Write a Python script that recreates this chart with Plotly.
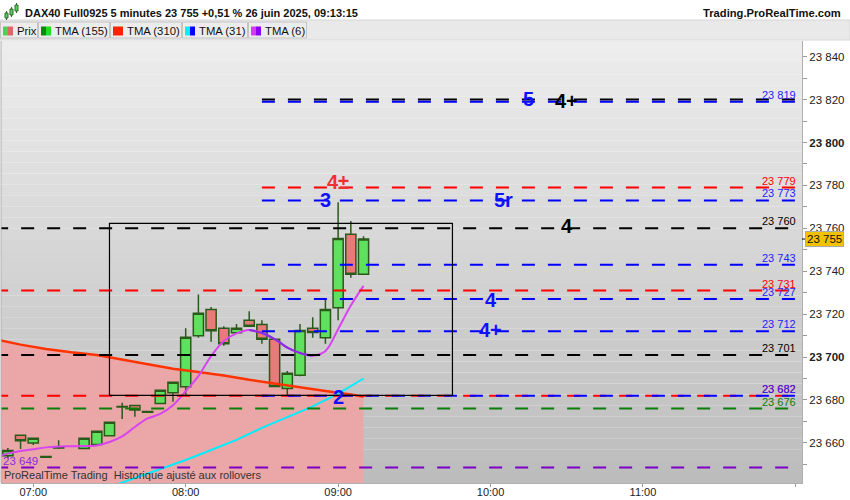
import plotly.graph_objects as go

DAY = "2025-06-26 "

# --- candles (5 minutes) ---
bar_times = ["06:50", "06:55", "07:00", "07:05", "07:10", "07:20", "07:25", "07:30",
             "07:35", "07:40", "07:45", "07:50", "07:55", "08:00", "08:05", "08:10",
             "08:15", "08:20", "08:25", "08:30", "08:35", "08:40", "08:45", "08:50",
             "08:55", "09:00", "09:05", "09:10"]
bar_open = [23654.0, 23663.5, 23660.0, 23653.7, 23657.9, 23657.4, 23659.3, 23663.3,
            23676.7, 23677.4, 23674.6, 23678.4, 23683.4, 23686.2, 23709.9, 23722.2,
            23713.4, 23711.3, 23717.1, 23715.2, 23708.3, 23685.4, 23691.5, 23713.4,
            23709.0, 23723.0, 23757.2, 23738.6]
bar_high = [23657.6, 23663.5, 23662.1, 23653.7, 23661.2, 23662.1, 23665.4, 23669.6,
            23678.7, 23677.4, 23674.6, 23684.5, 23688.2, 23713.4, 23729.2, 23723.3,
            23714.3, 23715.4, 23721.4, 23717.1, 23708.5, 23693.5, 23715.4, 23718.6,
            23726.6, 23772.1, 23763.4, 23756.3]
bar_low = [23653.0, 23657.1, 23659.0, 23653.3, 23657.2, 23657.0, 23659.0, 23663.3,
           23671.1, 23672.2, 23674.3, 23678.4, 23679.2, 23682.3, 23709.0, 23707.1,
           23705.3, 23711.0, 23714.0, 23706.2, 23686.0, 23682.0, 23691.0, 23709.0,
           23706.2, 23717.1, 23737.0, 23738.6]
bar_close = [23656.5, 23661.0, 23662.1, 23653.3, 23657.6, 23662.1, 23665.4, 23669.6,
             23676.9, 23675.3, 23674.3, 23684.5, 23688.2, 23709.2, 23720.4, 23712.3,
             23706.2, 23713.4, 23714.3, 23708.3, 23686.3, 23692.4, 23712.4, 23711.5,
             23722.2, 23755.3, 23738.6, 23755.0]

# --- moving averages ---
tma310_times = ["06:45", "06:55", "07:05", "07:15", "07:25", "07:35", "07:45", "07:55",
                "08:05", "08:15", "08:25", "08:35", "08:45", "08:55", "09:05", "09:10"]
tma310_vals = [23708.3, 23705.8, 23703.8, 23702.2, 23701.0, 23698.9, 23697.0, 23694.6,
               23693.0, 23691.4, 23689.4, 23687.6, 23685.9, 23684.2, 23682.6, 23681.5]

tma31_times = ["07:30", "07:40", "07:50", "08:00", "08:10", "08:20", "08:30", "08:40",
               "08:50", "09:00", "09:10"]
tma31_vals = [23639.4, 23643.5, 23647.6, 23652.0, 23656.7, 23661.4, 23667.0, 23672.0,
              23677.0, 23683.0, 23690.0]

tma6_times = ["06:45", "06:50", "06:55", "07:00", "07:05", "07:10", "07:15", "07:20",
              "07:25", "07:30", "07:35", "07:40", "07:45", "07:50", "07:55", "08:00",
              "08:05", "08:10", "08:15", "08:20", "08:25", "08:30", "08:35", "08:40",
              "08:45", "08:50", "08:55", "09:00", "09:05", "09:10"]
tma6_vals = [23653.3, 23655.0, 23656.2, 23657.0, 23657.9, 23658.3, 23658.4, 23658.5,
             23658.8, 23660.4, 23663.0, 23667.4, 23671.4, 23673.5, 23677.5, 23684.1,
             23691.1, 23700.4, 23707.5, 23711.0, 23712.6, 23711.2, 23708.4, 23704.4,
             23701.9, 23700.6, 23702.8, 23713.0, 23724.0, 23733.2]
tma6_down_from, tma6_down_to = 20, 25  # falling part drawn in violet

# --- horizontal levels ---
level_vals = [23820, 23819, 23779, 23773, 23760, 23743, 23731, 23727, 23712, 23701,
              23682, 23682, 23676, 23648.5]
level_text = ["23 820", "23 819", "23 779", "23 773", "23 760", "23 743", "23 731",
              "23 727", "23 712", "23 701", "23 682", "23 682", "23 676", "23 649"]
level_colors = ["#000000", "#0000ff", "#ff0000", "#0000ff", "#000000", "#0000ff",
                "#ff0000", "#0000ff", "#0000ff", "#000000", "#ff0000", "#0000ff",
                "#0a7d0a", "#7b00c4"]
level_starts = ["08:30", "08:30", "08:30", "08:30", "06:45", "08:30", "06:45", "08:30",
                "08:30", "06:45", "06:45", "08:30", "06:45", "06:45"]
level_show_label = [False, True, True, True, True, True, True, True, True, True,
                    True, True, True, False]
level_end = "12:00"

# --- wave labels ---
wave_texts = ["5", "4+", "4±", "3", "5r", "4", "4", "4+", "2"]
wave_times = ["10:15", "10:30", "09:00", "08:55", "10:05", "10:30", "10:00", "10:00", "09:00"]
wave_vals = [23820.5, 23819.5, 23781.5, 23773.0, 23773.0, 23761.0, 23726.6, 23712.6, 23681.5]
wave_colors = ["#1010ff", "#000000", "#f03030", "#1010ff", "#1010ff", "#000000",
               "#1010ff", "#1010ff", "#1010ff"]

box_times = ["07:30", "09:45"]
box_vals = [23682.1, 23762.3]

last_price = 23755
y_ticks = [23660, 23680, 23700, 23720, 23740, 23760, 23780, 23800, 23820, 23840]
x_ticks = ["07:00", "08:00", "09:00", "10:00", "11:00", "12:00"]
x_tick_text = ["07:00", "08:00", "09:00", "10:00", "11:00", ""]

legend_items = ["Prix", "TMA (155)", "TMA (310)", "TMA (31)", "TMA (6)"]
legend_colors = [("#4fd04f", "#e06666"), ("#0a8a0a", "#22dd22"), ("#ff2200", "#ff2200"),
                 ("#00f0ff", "#0000ff"), ("#d43cf0", "#8a00ff")]


def t(s):
    return DAY + s


def fmt(v):
    return f"{v:,}".replace(",", " ")


# pixel <-> paper helpers (figure 850x500)
PL, PR, PT, PB = 1, 802, 41, 483


def px(x):
    return (x - PL) / (PR - PL)


def py(y):
    return (PB - y) / (PB - PT)


FONT = "Liberation Sans, Arial, sans-serif"

fig = go.Figure()

fig.add_trace(go.Candlestick(
    x=[t(s) for s in bar_times], open=bar_open, high=bar_high, low=bar_low, close=bar_close,
    increasing=dict(fillcolor="#5fe05f", line=dict(color="#2a5a1a", width=1.5)),
    decreasing=dict(fillcolor="#ea7a7a", line=dict(color="#2a5a1a", width=1.5)),
    whiskerwidth=0, hoverinfo="skip",
))

fig.add_trace(go.Scatter(
    x=[t(s) for s in tma310_times], y=tma310_vals, mode="lines",
    line=dict(color="#ff3300", width=2.5), hoverinfo="skip",
))
fig.add_trace(go.Scatter(
    x=[t(s) for s in tma31_times], y=tma31_vals, mode="lines",
    line=dict(color="#00eeff", width=2), hoverinfo="skip",
))
fig.add_trace(go.Scatter(
    x=[t(s) for s in tma6_times], y=tma6_vals, mode="lines",
    line=dict(color="#d844f0", width=2, shape="spline"), hoverinfo="skip",
))
fig.add_trace(go.Scatter(
    x=[t(s) for s in tma6_times[tma6_down_from:tma6_down_to + 1]],
    y=tma6_vals[tma6_down_from:tma6_down_to + 1], mode="lines",
    line=dict(color="#8a2be2", width=2, shape="spline"), hoverinfo="skip",
))

# dashed levels
for v, c, s in zip(level_vals, level_colors, level_starts):
    fig.add_trace(go.Scatter(
        x=[t(s), t(level_end)], y=[v, v], mode="lines",
        line=dict(color=c, width=2, dash="13px,13px"), hoverinfo="skip",
    ))

annotations = []
for v, txt, c, show in zip(level_vals, level_text, level_colors, level_show_label):
    if not show:
        continue
    annotations.append(dict(
        x=px(798), xref="paper", y=v, yref="y", text=txt, showarrow=False,
        xanchor="right", yanchor="bottom", yshift=-1,
        font=dict(family=FONT, size=11, color="#2222ff" if c == "#0000ff" else c),
    ))
annotations.append(dict(
    x=px(1), xref="paper", y=level_vals[-1], yref="y", text=level_text[-1],
    showarrow=False, xanchor="left", yanchor="bottom", yshift=-1,
    font=dict(family=FONT, size=11.5, color="#8a2be2"),
))

for txt, tm, v, c in zip(wave_texts, wave_times, wave_vals, wave_colors):
    annotations.append(dict(
        x=t(tm), y=v, text=f"<b>{txt}</b>", showarrow=False, yanchor="middle",
        font=dict(family=FONT, size=20, color=c),
    ))

# last price tag
annotations.append(dict(
    x=px(805), xref="paper", y=last_price, yref="y", text=fmt(last_price),
    showarrow=False, xanchor="left", yanchor="middle", bgcolor="#f2c200",
    bordercolor="#aaaaaa", borderwidth=1, borderpad=1,
    font=dict(family=FONT, size=11.5, color="#111"),
))

# header texts
annotations.append(dict(
    x=px(23), xref="paper", y=py(12.5), yref="paper", showarrow=False, xanchor="left",
    yanchor="middle",
    text="<b>DAX40 Full0925 5 minutes 23 755 +0,51 % 26 juin 2025, 09:13:15</b>",
    font=dict(family=FONT, size=11, color="#111"),
))
annotations.append(dict(
    x=px(843), xref="paper", y=py(12.5), yref="paper", showarrow=False, xanchor="right",
    yanchor="middle", text="<b>Trading.ProRealTime.com</b>",
    font=dict(family=FONT, size=11.2, color="#111"),
))
annotations.append(dict(
    x=px(2), xref="paper", y=py(475), yref="paper", showarrow=False, xanchor="left",
    yanchor="middle", text="ProRealTime Trading  Historique ajusté aux rollovers",
    font=dict(family=FONT, size=11, color="#333"),
))

shapes = []
# background gradient
n_bands = 40
for i in range(n_bands):
    g = int(238 - (238 - 188) * (i + 0.5) / n_bands)
    shapes.append(dict(
        type="rect", xref="paper", yref="paper", x0=0, x1=1,
        y0=1 - (i + 1) / n_bands, y1=1 - i / n_bands,
        fillcolor=f"rgb({g},{g},{g})", line=dict(width=0), layer="below",
    ))

# pink zone under TMA(310), built from the TMA(310) values
area = "M" + t(tma310_times[0]).replace(" ", "_") + ",23600"
for s, v in zip(tma310_times, tma310_vals):
    area += " L" + t(s).replace(" ", "_") + f",{v}"
area += " L" + t(tma310_times[-1]).replace(" ", "_") + ",23600 Z"
shapes.append(dict(type="path", xref="x", yref="y", path=area, fillcolor="#eba7a7",
                   line=dict(width=0), layer="below"))

# legend row
shapes.append(dict(type="rect", xref="paper", yref="paper", x0=px(0), x1=px(850),
                   y0=py(40), y1=py(20), fillcolor="#e9e9e9",
                   line=dict(color="#d6d6d6", width=1), layer="below"))
box_edges = [(0, 38), (38, 110), (110, 182), (182, 248), (248, 307)]
for (a, b), name, (c1, c2) in zip(box_edges, legend_items, legend_colors):
    shapes.append(dict(type="rect", xref="paper", yref="paper", x0=px(a + 0.5), x1=px(b - 0.5),
                       y0=py(38), y1=py(22), fillcolor="#ececec",
                       line=dict(color="#c4c4c4", width=1), layer="below"))
    shapes.append(dict(type="rect", xref="paper", yref="paper", x0=px(a + 3), x1=px(a + 8),
                       y0=py(35.5), y1=py(26.5), fillcolor=c1, line=dict(width=0)))
    shapes.append(dict(type="rect", xref="paper", yref="paper", x0=px(a + 8), x1=px(a + 13),
                       y0=py(35.5), y1=py(26.5), fillcolor=c2, line=dict(width=0)))
    annotations.append(dict(x=px(a + 15), xref="paper", y=py(30.5), yref="paper",
                            text=name, showarrow=False, xanchor="left", yanchor="middle",
                            font=dict(family=FONT, size=11.3, color="#111")))

# small candle icon in header
for x0, y0, y1 in [(5, 13, 18), (10, 9, 15), (15, 5, 11)]:
    shapes.append(dict(type="line", xref="paper", yref="paper", x0=px(x0 + 1.5), x1=px(x0 + 1.5),
                       y0=py(y1 + 2), y1=py(y0 - 2), line=dict(color="#2a6a2a", width=1)))
    shapes.append(dict(type="rect", xref="paper", yref="paper", x0=px(x0), x1=px(x0 + 3),
                       y0=py(y1), y1=py(y0), fillcolor="#5fd05f",
                       line=dict(color="#2a6a2a", width=1)))

# left border of the chart
shapes.append(dict(type="line", xref="paper", yref="paper", x0=0, x1=0, y0=0, y1=1,
                   line=dict(color="#b0b0b0", width=1)))

# rectangle zone
shapes.append(dict(type="rect", xref="x", yref="y", x0=t(box_times[0]), x1=t(box_times[1]),
                   y0=box_vals[0], y1=box_vals[1], line=dict(color="#000", width=1.2),
                   fillcolor="rgba(0,0,0,0)", layer="above"))
# little tick next to the price tag
shapes.append(dict(type="line", xref="paper", yref="y", x0=px(802), x1=px(805),
                   y0=last_price, y1=last_price, line=dict(color="#000", width=1)))

fig.update_layout(
    width=850, height=500,
    margin=dict(l=PL, r=850 - PR, t=PT, b=500 - PB, autoexpand=False),
    paper_bgcolor="white", plot_bgcolor="rgba(0,0,0,0)",
    showlegend=False, boxgap=0.2, boxgroupgap=0,
    font=dict(family=FONT, size=12, color="#222"),
    shapes=shapes, annotations=annotations,
    xaxis=dict(
        type="date", range=[t("06:47:18"), t("12:02:36")],
        tickvals=[t(s) for s in x_ticks], ticktext=x_tick_text,
        ticks="outside", ticklen=3, tickcolor="#999", showgrid=False, zeroline=False,
        showline=True, linecolor="#b0b0b0", rangeslider=dict(visible=False),
        tickfont=dict(family=FONT, size=11, color="#222"), automargin=False,
        ticklabelstandoff=-4,
    ),
    yaxis=dict(
        side="right", range=[23641.3, 23847.3],
        tickvals=y_ticks,
        ticktext=[f"<b>{fmt(v)}</b>" if v % 100 == 0 else fmt(v) for v in y_ticks],
        ticks="outside", ticklen=4, tickcolor="#999",
        minor=dict(dtick=10, ticks="outside", ticklen=4, tickcolor="#999", showgrid=False),
        showgrid=False, zeroline=False, showline=True, linecolor="#b0b0b0",
        tickfont=dict(family=FONT, size=11.5, color="#222"), automargin=False,
    ),
)

fig.write_html("out.html", config=dict(displayModeBar=False),
               post_script="document.body.style.margin='0';")
